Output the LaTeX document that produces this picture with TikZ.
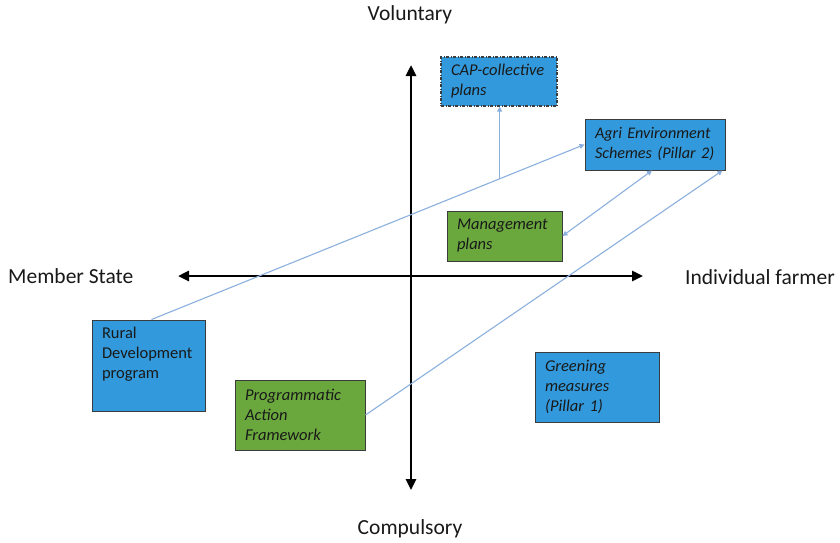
\documentclass[tikz,border=0pt]{standalone}
\usepackage{fontspec}
\setmainfont{Carlito}[ItalicFeatures={WordSpace=0.75}]
\usetikzlibrary{arrows.meta,calc}
\definecolor{boxblue}{RGB}{50,154,220}
\definecolor{boxgreen}{RGB}{106,168,62}
\definecolor{boxedge}{RGB}{60,60,60}
\definecolor{linkblue}{RGB}{140,176,222}
\definecolor{inktext}{RGB}{25,25,25}

\begin{document}
\begin{tikzpicture}[x=1pt,y=-1pt,
  box/.style={draw=boxedge, line width=1pt, inner xsep=10pt, inner ysep=0pt,
    align=left, text=inktext, font=\fontsize{16.5}{20}\selectfont},
  itbox/.style={box, font=\fontsize{16.5}{20}\selectfont\itshape},
  axis/.style={line width=2.6pt, black, {Triangle[length=11pt,width=10pt]}-{Triangle[length=11pt,width=10pt]}},
  axislabel/.style={font=\fontsize{21.5}{24}\selectfont, text=inktext, inner sep=0pt},
  link/.style={draw=linkblue, line width=1.1pt},
  tip/.tip={Triangle[length=5pt,width=5pt]}]

\fill[white] (0,0) rectangle (840,542);
\useasboundingbox (0,0) rectangle (840,542);

% axes
\coordinate (vtop) at (411,65);
\coordinate (vbot) at (411,490);
\coordinate (hleft) at (178,276);
\coordinate (hright) at (643,276);
\draw[axis] (vbot) -- (vtop);
\draw[axis] (hleft) -- (hright);

% axis labels
\node[axislabel] (vol) at (410,15) {Voluntary};
\node[axislabel] (comp) at (410,529) {Compulsory};
\node[axislabel, anchor=west] (ms) at (8,276) {Member State};
\node[axislabel, anchor=west] (ind) at (685,277) {Individual farmer};

% instruments
\node[itbox, fill=boxblue, dash pattern=on 3pt off 1.5pt on 1pt off 1.5pt, line width=1.2pt,
  minimum width=116pt, minimum height=49pt, text width=96pt] (cap) at (499,81.5)
  {CAP-collective\\plans};
\node[itbox, fill=boxblue, minimum width=140pt, minimum height=51pt, text width=120pt,
  font=\fontsize{16.2}{20}\selectfont\itshape]
  (aes) at (655,144.5) {Agri~Environment\\Schemes~(Pillar~2)};
\node[itbox, fill=boxgreen, minimum width=115pt, minimum height=50pt, text width=95pt]
  (mgmt) at (504.5,236) {Management\\plans};
\node[box, fill=boxblue, minimum width=111pt, minimum height=91pt, text width=93pt]
  (rural) at (148.5,365.5) {Rural\\Development\\program\\\strut};
\node[itbox, fill=boxgreen, minimum width=130pt, minimum height=70pt, text width=110pt]
  (paf) at (300,415) {Programmatic\\Action\\Framework};
\node[itbox, fill=boxblue, minimum width=124pt, minimum height=70pt, text width=104pt]
  (green) at (597,387) {Greening\\measures\\(Pillar~1)};

% links between instruments
\draw[link, -tip] ([xshift=3pt]rural.north) -- coordinate[pos=0.804] (br) (aes.west);
\draw[link, -tip] (br) -- (br |- cap.south);
\draw[link, tip-tip] (mgmt.east) -- ([xshift=-3pt]aes.south);
\draw[link, -tip] (paf.east) -- ([xshift=-3pt]aes.south east);
\end{tikzpicture}
\end{document}
